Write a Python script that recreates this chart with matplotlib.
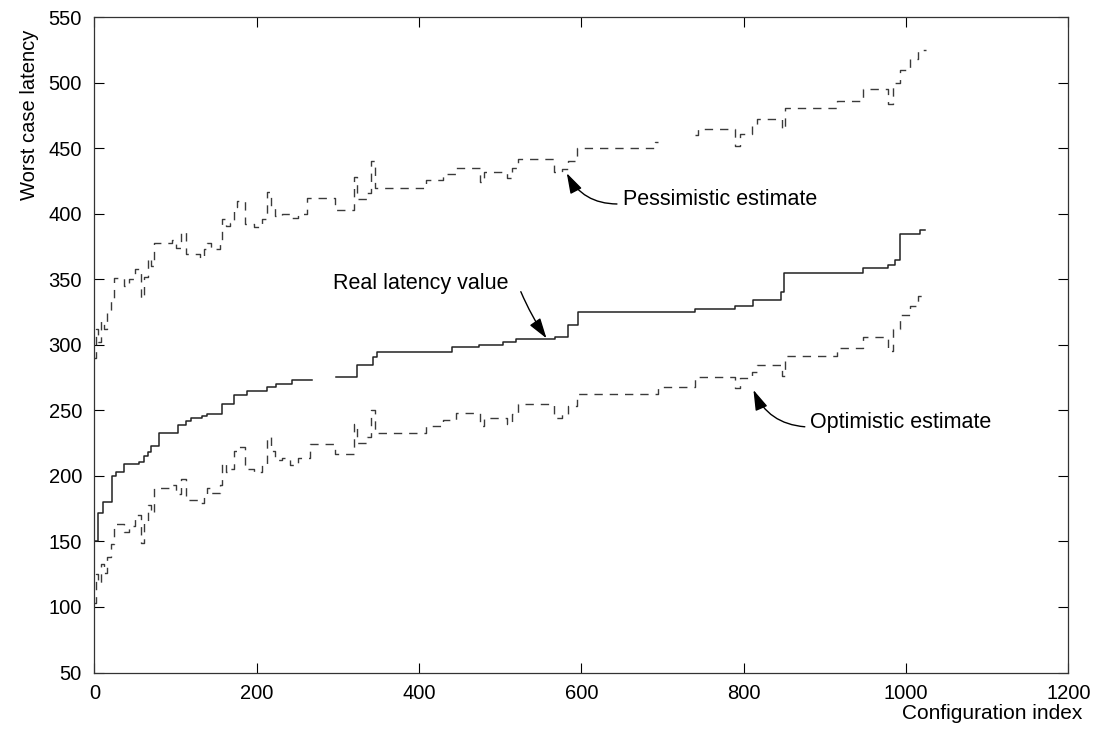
import numpy as np
import matplotlib
matplotlib.use('Agg')
import matplotlib.pyplot as plt

plt.rcParams['font.family'] = ['Liberation Sans', 'DejaVu Sans']

# Step data (value holds from x until the next x)
pess_x = [0, 2, 5, 8, 12, 16, 20, 24, 37, 43, 50, 57, 61, 66, 70, 74, 95, 101, 107, 113,
          130, 135, 139, 144, 155, 157, 162, 167, 172, 176, 186, 196, 206, 213, 217, 222,
          231, 241, 251, 262, 297, 320, 323, 336, 341, 346, 409, 430, 446, 475, 480, 508,
          514, 522, 566, 576, 584, 594, 691, 694, 740, 744, 789, 796, 810, 816, 847, 851,
          915, 947, 978, 984, 992, 1005, 1015, 1024]
pess_y = [290, 312, 302, 318, 312, 326, 335, 351, 345, 350, 358, 336, 352, 366, 360, 378, 380, 374, 386, 369,
          366, 373, 378, 373, 380, 396, 391, 393, 405, 410, 392, 390, 396, 417, 406, 398,
          400, 397, 400, 412, 403, 428, 411, 416, 440, 420, 426, 430, 435, 424, 432, 427,
          435, 442, 432, 434, 440, 450, 455, np.nan, 460, 465, 452, 461, 467, 472.5, 465, 481,
          486, 495, 484, 500, 510, 518, 525, 525]

real_x = [0, 4, 10, 22, 27, 37, 55, 61, 66, 70, 80, 103, 113, 119, 133, 139, 157, 172, 188,
          213, 224, 244, 268, 298, 323, 343, 348, 441, 474, 504, 520, 568, 583, 596, 740,
          789, 812, 846, 850, 947, 978, 987, 993, 1017, 1023]
real_y = [150, 172, 180, 200, 203, 209, 211, 215, 218, 223, 233, 239, 242, 244, 245.5, 247, 255, 262, 265,
          268, 270.5, 273, np.nan, 275.5, 284.5, 291, 294.3, 298.4, 300, 302.5, 304.6, 306.3, 315, 325.2, 327.7,
          330, 334.4, 340, 354.5, 359, 361, 365, 384.5, 388, 388]

opt_x = [0, 2, 5, 8, 12, 16, 20, 24, 37, 43, 50, 57, 61, 66, 70, 74, 95, 101, 107, 113,
         130, 135, 139, 144, 155, 157, 162, 167, 172, 176, 186, 196, 206, 213, 217, 222,
         231, 241, 251, 266, 297, 320, 323, 336, 341, 346, 409, 430, 446, 475, 480, 508,
         514, 522, 566, 576, 584, 594, 694, 740, 789, 796, 810, 816, 847, 851,
         915, 947, 978, 984, 992, 1005, 1015, 1024]
opt_y = [103, 125, 118, 133, 126, 138, 148, 163, 157, 162, 170, 149, 165, 178, 172, 191, 193, 186, 198, 182,
         179, 186, 191, 187, 193, 210, 203, 205, 219, 222, 205, 203, 209, 230, 219, 212,
         214, 208, 214, 224, 217, 240, 225, 230, 250, 233, 238, 243, 248, 238, 244, 240,
         247, 254.7, 244, 247, 253, 262.6, 268.2, 275.8, 267, 274.6, 279, 284.5, 276, 291.6,
         297.5, 306.3, 295, 312, 323, 330, 337, 337]

fig = plt.figure(figsize=(10.98, 7.33), dpi=100)
ax = fig.add_axes([0.086, 0.0825, 0.887, 0.894])

ax.step(pess_x, pess_y, where='post', color='#3a3a3a', lw=1.0, dashes=(6, 5))
ax.step(real_x, real_y, where='post', color='#222222', lw=1.1)
ax.step(opt_x, opt_y, where='post', color='#3a3a3a', lw=1.0, dashes=(6, 5))

ax.set_xlim(0, 1200)
ax.set_ylim(50, 550)
ax.set_xticks(np.arange(0, 1201, 200))
ax.set_yticks(np.arange(50, 551, 50))
ax.tick_params(direction='in', length=7, width=0.8, top=True, right=True,
               labelsize=14.5)
ax.tick_params(axis='x', pad=8)
ax.tick_params(axis='y', pad=9)
for s in ax.spines.values():
    s.set_linewidth(0.9)
    s.set_color('#333333')

fig.text(0.027, 0.843, 'Worst case latency', rotation=90, ha='center', va='center', fontsize=14.5)
fig.text(0.986, 0.027, 'Configuration index', ha='right', va='center', fontsize=15)

arrow = dict(arrowstyle='-|>,head_length=0.8,head_width=0.25', color='black', lw=1.0,
             shrinkA=0, shrinkB=0)
ax.annotate('Real latency value', xy=(557, 305), xytext=(294, 347),
            fontsize=15.5, va='center', ha='left',
            arrowprops=dict(arrow, connectionstyle='arc3,rad=0.05', relpos=(1.07, 0.1)))
ax.annotate('Pessimistic estimate', xy=(582, 431), xytext=(651, 410.7),
            fontsize=15.5, va='center', ha='left',
            arrowprops=dict(arrow, connectionstyle='arc3,rad=-0.3', relpos=(-0.03, 0.3)))
ax.annotate('Optimistic estimate', xy=(812, 265.6), xytext=(882, 240.7),
            fontsize=15.5, va='center', ha='left',
            arrowprops=dict(arrow, connectionstyle='arc3,rad=-0.3', relpos=(-0.03, 0.3)))

fig.savefig('out.png', dpi=100)
